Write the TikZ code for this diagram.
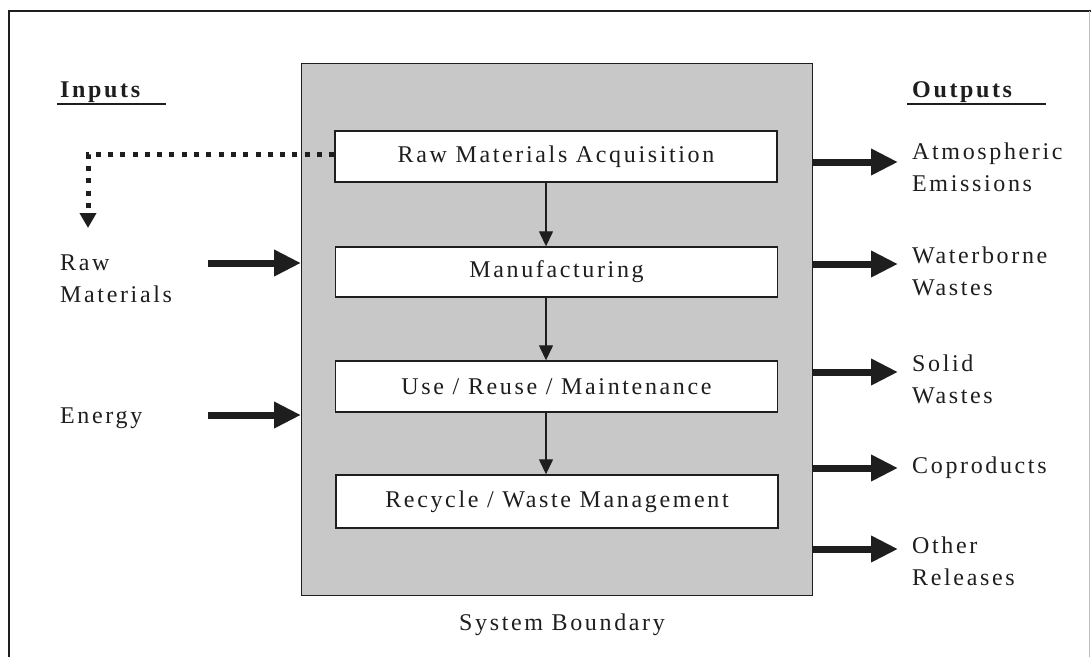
\documentclass[tikz,border=0pt]{standalone}
\usepackage{fontspec}
\setmainfont{Liberation Serif}
\newfontfamily\lsfont[LetterSpace=11]{Liberation Serif}
\usetikzlibrary{arrows.meta}
\definecolor{ink}{RGB}{30,30,30}
\definecolor{sysgray}{RGB}{200,200,200}
\begin{document}
\begin{tikzpicture}[x=1pt,y=-1pt,
  txt/.style={font=\lsfont\fontsize{24}{32}\selectfont, text=ink, inner sep=0pt, align=left},
  stage/.style={draw=ink, line width=1.4pt, fill=white, minimum width=442pt, minimum height=51pt, inner sep=0pt, font=\lsfont\fontsize{24}{28}\selectfont, text=ink},
  bigarrow/.style={draw=ink, line width=7pt, -{Triangle[length=27pt,width=25pt]}},
  flowarrow/.style={draw=ink, line width=1.3pt, -{Triangle[length=15pt,width=14pt]}},
  dotarrow/.style={draw=ink, line width=5pt, dash pattern=on 5pt off 7.3pt, -{Triangle[length=15pt,width=16pt]}},
  frame/.style={draw=ink, line width=2pt},
  uline/.style={draw=ink, line width=1.2pt}
]
\useasboundingbox (0,0) rectangle (1091,657);
\fill[white] (0,0) rectangle (1091,657);
% outer frame
\coordinate (fTL) at (9,11);
\coordinate (fTR) at (1091,11);
\coordinate (fBL) at (9,657);
\draw[frame] (fBL) -- (fTL) -- (fTR);
\draw[black!25, line width=1pt] (1089.5,11) -- (1089.5,657);

% system boundary
\node[draw=ink, line width=1.4pt, fill=sysgray, anchor=north west, minimum width=511pt, minimum height=532pt, inner sep=0pt] (sys) at (301,63) {};
\node[txt] (sb) at (562,625) {System Boundary};

% stages
\node[stage] (b1) at (556,156.5) {Raw Materials Acquisition};
\node[stage, minimum height=50pt] (b2) at (556.5,272) {Manufacturing};
\node[stage] (b3) at (556.5,386.5) {Use / Reuse / Maintenance};
\node[stage, minimum height=53pt] (b4) at (557,501.5) {Recycle / Waste Management};

\coordinate (ax) at (546,0);
\draw[flowarrow] (b1.south -| ax) -- (b2.north -| ax);
\draw[flowarrow] (b2.south -| ax) -- (b3.north -| ax);
\draw[flowarrow] (b3.south -| ax) -- (b4.north -| ax);

% inputs
\node[txt, font=\lsfont\bfseries\fontsize{24}{28}\selectfont, anchor=base west] (inp) at (60,97) {Inputs};
\coordinate (inU1) at (57,104);
\coordinate (inU2) at (166,104);
\draw[uline] (inU1) -- (inU2);
\node[txt, anchor=west] (rawm) at (60,279) {Raw\\Materials};
\node[txt, anchor=west] (energy) at (60,418) {Energy};
\coordinate (rmStart) at (208,263);
\coordinate (enStart) at (208,415);
\draw[bigarrow] (rmStart) -- (rmStart -| sys.west);
\draw[bigarrow] (enStart) -- (enStart -| sys.west);

% dotted feedback
\coordinate (dotEnd) at (88,228);
\draw[dotarrow] (b1.west |- 0,154) -| (dotEnd);

% outputs
\node[txt, font=\lsfont\bfseries\fontsize{24}{28}\selectfont, anchor=base west] (outp) at (912,97) {Outputs};
\coordinate (outU1) at (907,104);
\coordinate (outU2) at (1046,104);
\draw[uline] (outU1) -- (outU2);

\node[txt, anchor=west] (atm) at (912,167) {Atmospheric\\Emissions};
\node[txt, anchor=west] (water) at (912,271) {Waterborne\\Wastes};
\node[txt, anchor=west] (solid) at (912,379) {Solid\\Wastes};
\node[txt, anchor=west] (copr) at (912,468) {Coproducts};
\node[txt, anchor=west] (other) at (912,561) {Other\\Releases};

\coordinate (oA) at (898,162);
\coordinate (oW) at (898,264);
\coordinate (oS) at (898,372);
\coordinate (oC) at (898,468);
\coordinate (oO) at (898,549);
\draw[bigarrow] (sys.east |- oA) -- (oA);
\draw[bigarrow] (sys.east |- oW) -- (oW);
\draw[bigarrow] (sys.east |- oS) -- (oS);
\draw[bigarrow] (sys.east |- oC) -- (oC);
\draw[bigarrow] (sys.east |- oO) -- (oO);
\end{tikzpicture}
\end{document}
